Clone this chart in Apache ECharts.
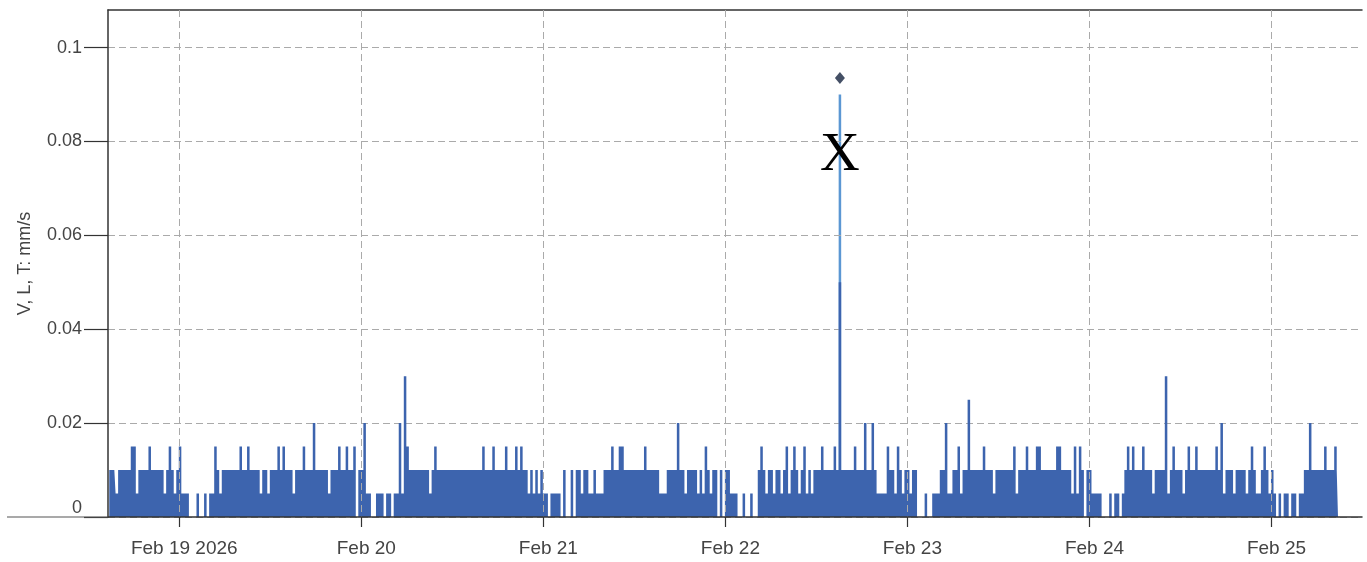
<!DOCTYPE html>
<html>
<head>
<meta charset="utf-8">
<script src="https://cdn.jsdelivr.net/npm/echarts@6/dist/echarts.min.js"></script>
<style>
  html, body { margin: 0; padding: 0; background: #fff; }
  #chart { width: 1367px; height: 562px; }
</style>
</head>
<body>
<div id="chart"></div>
<script>
// Vibration readings (mm/s), one sample every 20 minutes starting at sampleStart
const sampleStart = '2026-02-18T14:50:00';
const sampleStepMinutes = 20;

const vValues = [
  .01,.01,.01,.005,.01,.01,.01,.01,.01,.015,
  .015,.005,.01,.01,.01,.01,.015,.01,.01,.01,
  .01,.01,.005,.01,.015,.01,.005,.01,.015,.005,
  .005,.005,0,0,0,.005,0,0,.005,0,
  .005,.005,.015,.01,.005,.01,.01,.01,.01,.01,
  .01,.01,.015,.01,.01,.015,.01,.01,.01,.01,
  .005,.01,.01,.005,.01,.01,.01,.015,.01,.015,
  .01,.01,.01,.005,.01,.01,.01,.015,.01,.01,
  .01,.02,.01,.01,.01,.01,.01,.005,.01,.01,
  .01,.015,.01,.01,.015,.01,.01,.015,0,.01,
  .01,.02,.005,.005,0,0,.005,.005,.005,0,
  .005,.005,0,.005,.005,.02,.005,.03,.015,.01,
  .01,.01,.01,.01,.01,.01,.01,.005,.01,.015,
  .01,.01,.01,.01,.01,.01,.01,.01,.01,.01,
  .01,.01,.01,.01,.01,.01,.01,.01,.015,.01,
  .01,.01,.015,.01,.01,.01,.01,.015,.01,.01,
  .01,.015,.01,.015,.01,.01,.005,.01,.005,.01,
  .005,.01,.005,.005,0,.005,.005,.005,.005,0,
  .01,0,0,.01,0,.01,.01,.005,.01,.01,
  .005,.005,.01,.005,.005,.005,.01,.01,.01,.015,
  .01,.01,.015,.015,.01,.01,.01,.01,.01,.01,
  .01,.01,.015,.01,.01,.01,.01,.01,.005,.005,
  .005,.01,.01,.01,.01,.02,.01,.01,.005,.01,
  .01,.01,.01,.005,.01,.005,.015,.01,.005,.01,
  .01,0,.01,0,.01,.01,.005,.005,.005,0,
  0,.005,0,0,.005,0,0,.01,.015,.01,
  .005,.01,.01,.005,.01,.01,.005,.01,.015,.005,
  .01,.015,.01,.005,.01,.015,.005,.01,.005,.01,
  .01,.01,.015,.01,.01,.01,.01,.015,.01,.05,
  .01,.01,.01,.01,.01,.015,.01,.01,.01,.02,
  .01,.01,.02,.01,.005,.005,.005,.005,.015,.01,
  .01,.005,.015,.01,.005,.01,.01,.005,.01,.01,
  0,0,0,.005,0,0,.005,.005,.005,.01,
  .01,.02,.005,.005,.01,.01,.015,.005,.01,.01,
  .025,.01,.01,.01,.01,.01,.015,.01,.01,.01,
  .005,.01,.01,.01,.01,.01,.01,.01,.015,.005,
  .01,.01,.01,.015,.01,.01,.01,.015,.015,.01,
  .01,.01,.01,.01,.01,.015,.015,.01,.01,.01,
  .01,.005,.015,.005,.015,.01,0,.01,.01,.005,
  .005,.005,.005,0,0,0,.005,0,.005,.005,
  0,.005,.01,.015,.01,.015,.01,.01,.01,.015,
  .01,.01,.01,.005,.01,.01,.01,.01,.03,.005,
  .01,.015,.01,.01,.01,.005,.01,.015,.01,.01,
  .015,.01,.01,.01,.01,.01,.01,.01,.015,.01,
  .02,.005,.01,.01,.01,.005,.01,.01,.01,.01,
  .005,.01,.015,.01,.005,.005,.01,.015,.01,.005,
  .01,.005,0,.005,0,.005,.005,0,.005,.005,
  0,.005,.005,.01,.01,.02,.01,.01,.01,.01,
  .01,.015,.01,.01,.01,.015,.01
];

// Longitudinal component, only where it rises above the vertical one
const lTimes = ['2026-02-22T15:10:00'];
const lValues = [0.09];

// Peak marker and its tag
const peakTimes = ['2026-02-22T15:10:00'];
const peakValues = [0.0935];
const peakTagValue = 0.077;
const peakTagText = 'X';

// Axes
const xRange = ['2026-02-18T14:40:00', '2026-02-25T12:00:00'];
const xTickDates = ['2026-02-19T00:00:00', '2026-02-20T00:00:00', '2026-02-21T00:00:00',
  '2026-02-22T00:00:00', '2026-02-23T00:00:00', '2026-02-24T00:00:00', '2026-02-25T00:00:00'];
const xTickLabels = ['Feb 19 2026', 'Feb 20', 'Feb 21', 'Feb 22', 'Feb 23', 'Feb 24', 'Feb 25'];
const yTicks = [0, 0.02, 0.04, 0.06, 0.08, 0.1];
const yMax = 0.108;
const yAxisTitle = 'V, L, T: mm/s';

const toMs = s => new Date(s).getTime();
const t0 = toMs(sampleStart);
const stepMs = sampleStepMinutes * 60 * 1000;
const vData = vValues.map((v, i) => [t0 + i * stepMs, v]);
const lData = lTimes.map((t, i) => [toMs(t), lValues[i]]);
const peakData = peakTimes.map((t, i) => [toMs(t), peakValues[i]]);
const xTickMs = xTickDates.map(toMs);

const textColor = '#444';
const vColor = '#3d64ae';
const gridLine = { show: true, lineStyle: { color: '#aaaaaa', width: 1, type: [7, 4] } };

const chart = echarts.init(document.getElementById('chart'), null, { renderer: 'canvas' });
chart.setOption({
  animation: false,
  backgroundColor: '#fff',
  grid: { left: 108, right: 5, top: 10, bottom: 45 },
  xAxis: [{
    // time values in ms on a linear scale, labelled at midnight
    type: 'value',
    min: toMs(xRange[0]),
    max: toMs(xRange[1]),
    z: 4,
    axisLine: { show: true, lineStyle: { color: '#333', width: 1.5 } },
    axisTick: { show: true, length: 10, customValues: xTickMs, lineStyle: { color: '#333', width: 1.2 } },
    axisLabel: {
      customValues: xTickMs,
      formatter: v => { const k = xTickMs.indexOf(v); return k >= 0 ? xTickLabels[k] : ''; },
      fontFamily: 'Liberation Sans', fontSize: 19, color: textColor, margin: 22,
      padding: [0, 0, 0, 11]
    },
    splitLine: gridLine
  }, {
    type: 'value', position: 'top', min: 0, max: 1,
    axisLine: { show: true, lineStyle: { color: '#333', width: 1.5 } },
    axisTick: { show: false }, axisLabel: { show: false }, splitLine: { show: false }
  }],
  yAxis: {
    type: 'value', min: 0, max: yMax, z: 3,
    name: yAxisTitle, nameLocation: 'middle', nameRotate: 90, nameGap: 74,
    nameTextStyle: { fontFamily: 'Liberation Sans', fontSize: 18, color: textColor },
    axisLine: { show: true, lineStyle: { color: '#333', width: 1.5 } },
    axisTick: { show: true, length: 24, customValues: yTicks, lineStyle: { color: '#333', width: 1.2 } },
    axisLabel: {
      customValues: yTicks,
      fontFamily: 'Liberation Sans', fontSize: 18, color: textColor, margin: 26,
      formatter: v => (v === 0 ? '{z|0}' : String(v)),
      rich: { z: { fontFamily: 'Liberation Sans', fontSize: 18, color: textColor, padding: [0, 0, 18, 0] } }
    },
    splitLine: gridLine
  },
  series: [{
    // L component drawn behind V
    type: 'bar', name: 'L', data: lData,
    itemStyle: { color: '#5b97d3' }
  }, {
    // V component as a stepped, filled trace (each sample holds for one step)
    type: 'line', name: 'V', data: vData,
    step: 'middle', symbol: 'none',
    lineStyle: { width: 0 },
    areaStyle: { color: vColor, opacity: 1 }
  }, {
    type: 'scatter', name: 'Peak', data: peakData,
    symbol: 'diamond', symbolSize: [10, 12], z: 5,
    itemStyle: { color: '#15233f' },
    markPoint: {
      symbol: 'rect', symbolSize: 1,
      itemStyle: { color: 'rgba(0,0,0,0)' },
      label: {
        show: true, position: 'inside', formatter: peakTagText,
        fontFamily: 'Liberation Serif', fontSize: 55, color: '#000'
      },
      data: [{ coord: [peakData[0][0], peakTagValue] }]
    }
  }]
});

// One sample step in pixels, used for the width of the L bar
const stepPx = chart.convertToPixel({ xAxisIndex: 0 }, t0 + stepMs) - chart.convertToPixel({ xAxisIndex: 0 }, t0);

// Baseline continues to the left under the zero label
const y0 = chart.convertToPixel({ yAxisIndex: 0 }, 0);
const xL = chart.convertToPixel({ xAxisIndex: 0 }, toMs(xRange[0]));
chart.setOption({
  series: [{ barWidth: stepPx }],
  graphic: [{
    type: 'line', z: 10,
    shape: { x1: 7, y1: y0, x2: xL, y2: y0 },
    style: { stroke: '#555', lineWidth: 1.2 }
  }]
});
</script>
</body>
</html>
